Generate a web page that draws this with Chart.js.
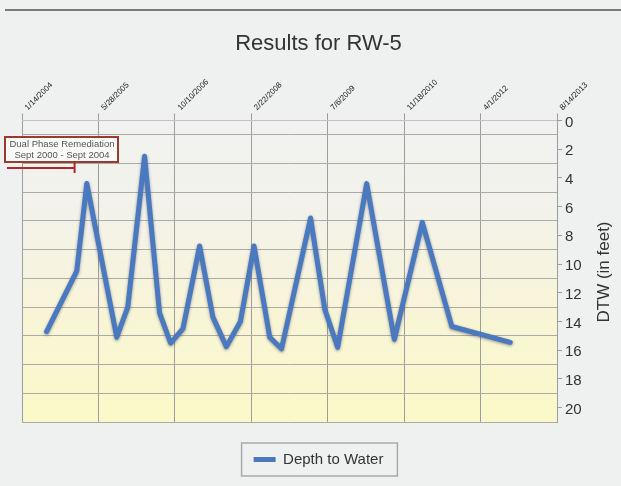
<!DOCTYPE html>
<html>
<head>
<meta charset="utf-8">
<title>Results for RW-5</title>
<script src="https://cdn.jsdelivr.net/npm/chart.js@4.4.1/dist/chart.umd.min.js"></script>
<style>
  body { margin: 0; background: #eff1f0; }
  #wrap { width: 621px; height: 486px; }
</style>
</head>
<body>
<div id="wrap"><canvas id="myChart" width="621" height="486"></canvas></div>
<script>
'use strict';

let titleText = 'Results for RW-5';
let seriesName = 'Depth to Water';
let axisTitle = 'DTW (in feet)';
let startDate = '2004-01-14';

// top axis labels (every 500 days)
let tickLabels = ['1/14/2004', '5/28/2005', '10/10/2006', '2/22/2008', '7/6/2009', '11/18/2010', '4/1/2012', '8/14/2013'];
let yTicks = [0, 2, 4, 6, 8, 10, 12, 14, 16, 18, 20];

// sample dates and depth to water (feet)
let sampleDates = ['2004-06-23', '2005-01-06', '2005-03-13', '2005-09-25', '2005-12-06', '2006-03-26',
  '2006-07-02', '2006-09-12', '2006-12-02', '2007-03-21', '2007-06-16', '2007-09-12', '2007-12-13',
  '2008-03-11', '2008-06-22', '2008-09-07', '2009-03-16', '2009-06-17', '2009-09-09', '2010-03-18',
  '2010-09-15', '2011-03-17', '2011-09-26', '2012-10-12'];
let depthValues = [14.7, 10.5, 4.4, 15.1, 13.0, 2.5,
  13.4, 15.5, 14.5, 8.75, 13.7, 15.75, 14.0,
  8.75, 15.1, 15.9, 6.8, 13.15, 15.8, 4.4,
  15.25, 7.1, 14.35, 15.45];

let noteLines = ['Dual Phase Remediation', 'Sept 2000 - Sept 2004'];
let noteEndDate = '2004-12-23';

let lineColor = '#4a79bf';
let textColor = '#333333';
let fontName = '"Liberation Sans", Arial, sans-serif';

function dayNum(str){
  let p = str.split('-');
  let s = startDate.split('-');
  return (Date.UTC(+p[0], p[1] - 1, +p[2]) - Date.UTC(+s[0], s[1] - 1, +s[2])) / 86400000;
}

function labelDay(label){
  let p = label.split('/');
  return dayNum(p[2] + '-' + p[0] + '-' + p[1]);
}

let tickDays = tickLabels.map(labelDay);
let points = [];
for (let i = 0; i < sampleDates.length; i++){
  points.push({x: dayNum(sampleDates[i]), y: depthValues[i]});
}

// page background, top rule, plot gradient
let backdrop = {
  id: 'backdrop',
  beforeDraw: function(chart){
    let ctx = chart.ctx;
    let a = chart.chartArea;
    ctx.save();
    ctx.fillStyle = '#eff1f0';
    ctx.fillRect(0, 0, chart.width, chart.height);
    ctx.fillStyle = '#7a7a7a';
    ctx.fillRect(5, 9, chart.width - 5, 2);
    let grad = ctx.createLinearGradient(0, a.top, 0, a.bottom);
    grad.addColorStop(0, '#f1f2f0');
    grad.addColorStop(0.3, '#f3f2ea');
    grad.addColorStop(0.65, '#f8f5d6');
    grad.addColorStop(1, '#fbf8c8');
    ctx.fillStyle = grad;
    ctx.fillRect(a.left, a.top, a.right - a.left, a.bottom - a.top);
    ctx.restore();
  }
};

// soft shadow under the line
let lineShadow = {
  id: 'lineShadow',
  beforeDatasetsDraw: function(chart){
    chart.ctx.save();
    chart.ctx.shadowColor = 'rgba(20, 30, 60, 0.45)';
    chart.ctx.shadowBlur = 3;
    chart.ctx.shadowOffsetY = 1;
  },
  afterDatasetsDraw: function(chart){
    chart.ctx.restore();
  }
};

// note box, bracket, legend frame and right axis title
let extras = {
  id: 'extras',
  afterDraw: function(chart){
    let ctx = chart.ctx;
    let xs = chart.scales.x;
    ctx.save();

    // legend frame
    let hb = chart.legend.legendHitBoxes[0];
    if (hb){
      ctx.strokeStyle = '#a9a9a9';
      ctx.lineWidth = 1.5;
      ctx.strokeRect(hb.left - 12, hb.top - 9, hb.width + 26, hb.height + 18);
    }

    // remediation bracket
    let endX = xs.getPixelForValue(dayNum(noteEndDate));
    ctx.strokeStyle = '#b3262b';
    ctx.lineWidth = 2;
    ctx.beginPath();
    ctx.moveTo(7, 168);
    ctx.lineTo(endX, 168);
    ctx.moveTo(endX, 163);
    ctx.lineTo(endX, 173);
    ctx.stroke();

    // note box
    ctx.fillStyle = '#fbfbfa';
    ctx.fillRect(5, 137, 113, 25);
    ctx.strokeStyle = '#9c3a2e';
    ctx.lineWidth = 2;
    ctx.strokeRect(5, 137, 113, 25);
    ctx.fillStyle = '#555';
    ctx.font = '9.5px ' + fontName;
    ctx.textAlign = 'center';
    ctx.textBaseline = 'middle';
    ctx.fillText(noteLines[0], 62, 144);
    ctx.fillText(noteLines[1], 62, 155);

    // axis title, reading upwards
    ctx.translate(604, 272);
    ctx.rotate(-Math.PI / 2);
    ctx.fillStyle = textColor;
    ctx.font = '17px ' + fontName;
    ctx.fillText(axisTitle, 0, 0);
    ctx.restore();
  }
};

let ctx = document.getElementById('myChart').getContext('2d');
let chart = new Chart(ctx, {
  type: 'line',
  data: {
    datasets: [{
      label: seriesName,
      data: points,
      borderColor: lineColor,
      backgroundColor: lineColor,
      borderWidth: 5,
      borderJoinStyle: 'round',
      borderCapStyle: 'round',
      pointRadius: 0,
      tension: 0,
      fill: false
    }]
  },
  options: {
    responsive: false,
    animation: false,
    devicePixelRatio: 1,
    layout: {padding: {left: 16, right: 0, top: 0, bottom: 9}},
    plugins: {
      title: {
        display: true,
        text: titleText,
        color: textColor,
        font: {family: fontName, size: 22, weight: 'normal'},
        padding: {top: 31, bottom: 0}
      },
      legend: {
        position: 'bottom',
        labels: {
          color: textColor,
          font: {family: fontName, size: 15},
          boxWidth: 22,
          boxHeight: 5,
          padding: 30,
          generateLabels: function(c){
            let items = Chart.defaults.plugins.legend.labels.generateLabels(c);
            items.forEach(function(it){ it.lineWidth = 0; it.fillStyle = lineColor; });
            return items;
          }
        }
      },
      tooltip: {enabled: false}
    },
    scales: {
      x: {
        type: 'linear',
        position: 'top',
        min: tickDays[0],
        max: tickDays[tickDays.length - 1],
        afterBuildTicks: function(scale){
          scale.ticks = tickDays.map(function(v){ return {value: v}; });
        },
        afterFit: function(scale){ scale.height = 63; },
        ticks: {
          autoSkip: false,
          minRotation: 45,
          maxRotation: 45,
          padding: 1,
          labelOffset: 11,
          color: '#222',
          font: {family: fontName, size: 8},
          callback: function(value, index){ return tickLabels[index]; }
        },
        grid: {color: '#9d9d9d', tickLength: 7, lineWidth: 1},
        border: {display: true, color: '#c4c4c4'}
      },
      y: {
        type: 'linear',
        position: 'right',
        reverse: true,
        min: 0,
        max: 21,
        afterBuildTicks: function(scale){
          scale.ticks = yTicks.map(function(v){ return {value: v}; });
        },
        afterFit: function(scale){ scale.width = 64; },
        ticks: {
          color: textColor,
          padding: 3,
          labelOffset: 2,
          font: {family: fontName, size: 15}
        },
        grid: {drawOnChartArea: false, tickLength: 5, color: '#9d9d9d'},
        border: {display: true, color: '#9d9d9d'}
      },
      // odd-foot grid lines sit between the labels
      yGrid: {
        type: 'linear',
        position: 'left',
        reverse: true,
        min: 0,
        max: 21,
        afterBuildTicks: function(scale){
          let t = [];
          for (let v = 1; v <= 21; v += 2) t.push({value: v});
          scale.ticks = t;
        },
        afterFit: function(scale){ scale.width = 6; },
        ticks: {display: false},
        grid: {color: '#ababab', drawTicks: false},
        border: {display: false}
      }
    }
  },
  plugins: [backdrop, lineShadow, extras]
});
</script>
</body>
</html>
